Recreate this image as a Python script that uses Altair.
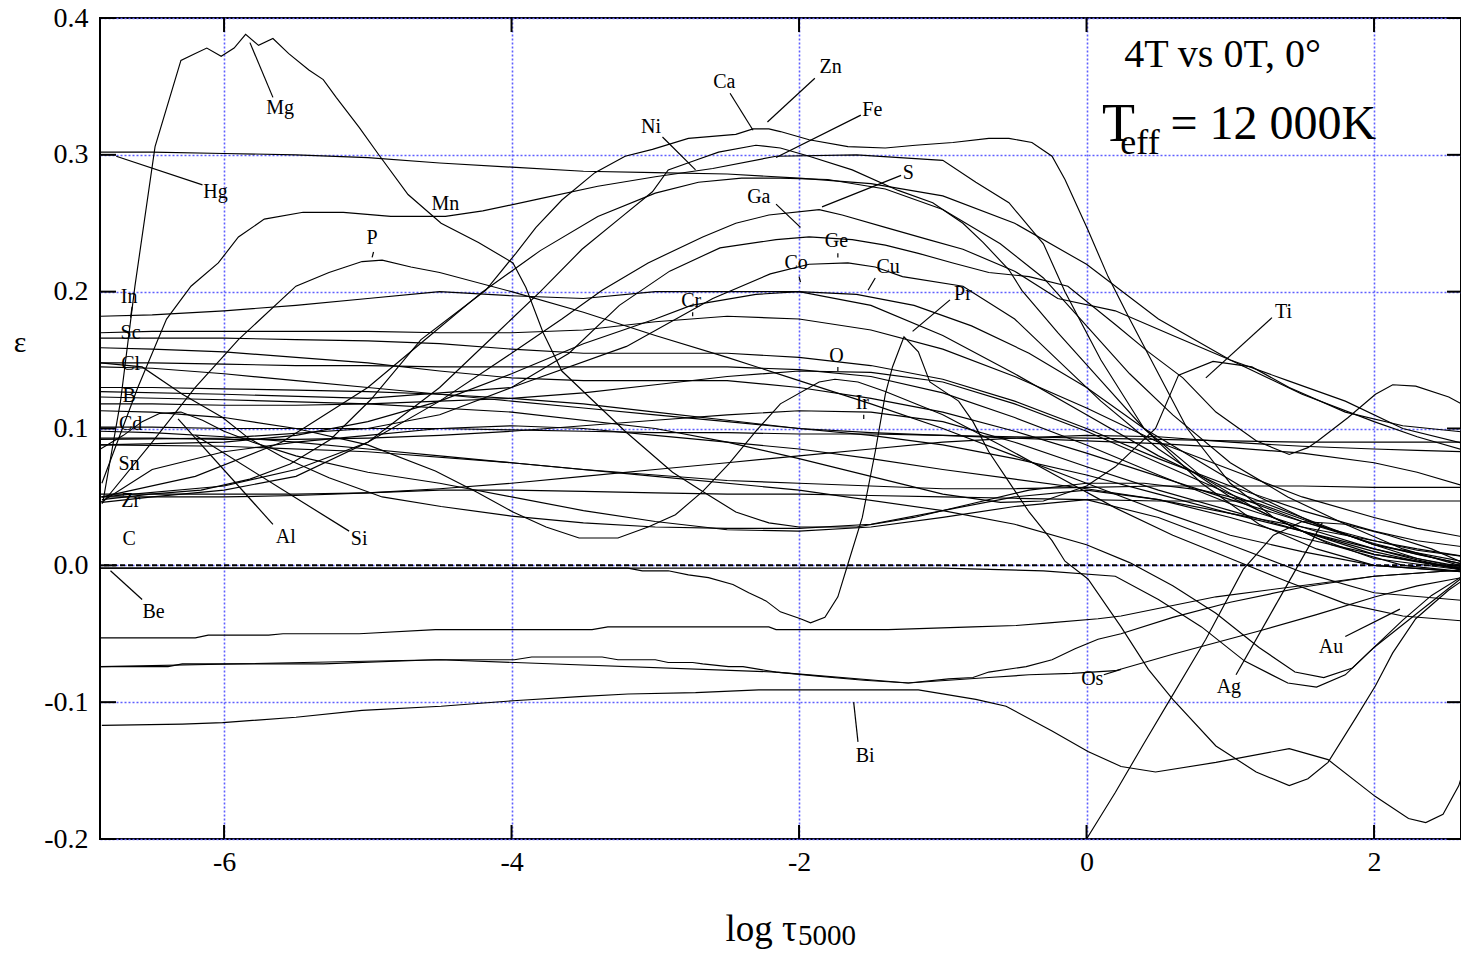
import altair as alt
import pandas as pd

# ---------------- data (log tau_5000, epsilon) ----------------
XG = [-6.86, -6.5, -6.0, -5.5, -5.0, -4.5, -4.0, -3.5, -3.0, -2.5, -2.0,
      -1.5, -1.0, -0.5, 0.0, 0.5, 1.0, 1.5, 2.0, 2.3, 2.66]

MG_X = [-6.84, -6.72, -6.62, -6.48, -6.30, -6.20, -6.12, -6.02, -5.93, -5.85, -5.76, -5.66,
        -5.55, -5.41, -5.31, -5.22, -5.06, -4.93, -4.72, -4.49, -4.23, -3.99, -3.90, -3.78,
        -3.65, -3.42, -3.21, -2.88, -2.67, -2.44, -2.21, -2.0, -1.6, -1.2, -0.8, -0.4, 0.0,
        0.4, 0.8, 1.2, 1.6, 2.0, 2.66]
MG_Y = [0.048, 0.12, 0.204, 0.306, 0.369, 0.374, 0.378, 0.372, 0.378, 0.388, 0.38, 0.385,
        0.374, 0.362, 0.355, 0.342, 0.32, 0.301, 0.271, 0.25, 0.236, 0.221, 0.203, 0.17,
        0.142, 0.119, 0.098, 0.068, 0.054, 0.039, 0.031, 0.028, 0.028, 0.035, 0.045, 0.055,
        0.06, 0.06, 0.055, 0.045, 0.03, 0.015, 0.0]

CA_X = [-6.85, -6.51, -6.16, -5.82, -5.54, -5.26, -4.98, -4.63, -4.18, -3.97, -3.83, -3.65,
        -3.42, -3.21, -3.02, -2.77, -2.44, -2.32, -2.21, -2.13, -1.93, -1.66, -1.4, -1.19,
        -0.93, -0.68, -0.54, -0.38, -0.24, -0.15, 0.01, 0.15, 0.3, 0.5, 0.7, 1.0, 1.3, 1.7,
        2.2, 2.66]
CA_Y = [0.048, 0.052, 0.055, 0.063, 0.074, 0.092, 0.121, 0.165, 0.201, 0.228, 0.247, 0.267,
        0.287, 0.299, 0.304, 0.312, 0.315, 0.319, 0.319, 0.317, 0.311, 0.306, 0.305, 0.307,
        0.309, 0.312, 0.312, 0.309, 0.299, 0.282, 0.245, 0.211, 0.18, 0.14, 0.1, 0.06, 0.035,
        0.015, 0.0, -0.005]

ZN_X = [-6.85, -6.5, -6.0, -5.5, -5.0, -4.5, -4.1, -3.8, -3.51, -3.23, -3.02, -2.91, -2.72,
        -2.56, -2.3, -2.13, -1.93, -1.63, -1.31, -1.07, -0.86, -0.72, -0.54, -0.45, -0.2,
        0.1, 0.4, 0.8, 1.2, 1.6, 2.0, 2.66]
ZN_Y = [0.046, 0.05, 0.055, 0.065, 0.09, 0.13, 0.17, 0.2, 0.231, 0.255, 0.273, 0.289, 0.296,
        0.302, 0.307, 0.305, 0.299, 0.289, 0.274, 0.265, 0.25, 0.236, 0.216, 0.201, 0.17,
        0.135, 0.1, 0.065, 0.04, 0.02, 0.005, -0.004]

MN_X = [-6.85, -6.6, -6.4, -6.23, -6.04, -5.9, -5.72, -5.45, -5.17, -4.84, -4.46, -4.2, -3.8,
        -3.4, -3.0, -2.6, -2.16, -1.6, -1.0, -0.77, -0.54, -0.3, -0.15, 0.1, 0.4, 0.8, 1.2,
        1.6, 2.0, 2.66]
MN_Y = [0.06, 0.13, 0.18, 0.204, 0.221, 0.24, 0.253, 0.258, 0.258, 0.255, 0.255, 0.259, 0.268,
        0.277, 0.284, 0.29, 0.299, 0.3, 0.296, 0.28, 0.265, 0.235, 0.2, 0.15, 0.1, 0.06, 0.03,
        0.012, 0.0, -0.005]

HG_Y = [0.302, 0.302, 0.301, 0.3, 0.298, 0.294, 0.291, 0.288, 0.287, 0.286, 0.283, 0.279,
        0.27, 0.25, 0.22, 0.18, 0.15, 0.125, 0.105, 0.094, 0.083]

FE_X = [-6.85, -6.2, -5.6, -5.0, -4.6, -4.2, -3.8, -3.4, -3.0, -2.7, -2.4, -2.13, -1.8, -1.4,
        -1.0, -0.6, -0.3, 0.0, 0.3, 0.6, 1.0, 1.4, 1.8, 2.2, 2.66]
FE_Y = [0.05, 0.065, 0.09, 0.13, 0.165, 0.2, 0.23, 0.255, 0.272, 0.28, 0.283, 0.283, 0.282,
        0.275, 0.26, 0.235, 0.21, 0.175, 0.14, 0.11, 0.075, 0.05, 0.03, 0.012, -0.002]

S_X = [-6.85, -6.0, -5.5, -5.0, -4.5, -4.0, -3.65, -3.37, -3.05, -2.67, -2.44, -2.21, -1.86,
       -1.7, -1.4, -1.1, -0.86, -0.5, -0.2, 0.2, 0.6, 1.0, 1.4, 1.8, 2.2, 2.66]
S_Y = [0.05, 0.058, 0.07, 0.09, 0.12, 0.155, 0.18, 0.201, 0.221, 0.24, 0.25, 0.256, 0.26,
       0.256, 0.247, 0.238, 0.231, 0.215, 0.195, 0.186, 0.168, 0.15, 0.135, 0.12, 0.1, 0.088]

GE_X = [-6.86, -6.0, -5.0, -4.5, -4.0, -3.6, -3.25, -2.9, -2.55, -2.16, -1.93, -1.63, -1.4,
        -1.17, -0.93, -0.68, -0.4, -0.13, 0.2, 0.43, 0.67, 0.9, 1.18, 1.41, 1.54, 1.61, 1.82,
        2.01, 2.13, 2.29, 2.52, 2.66]
GE_Y = [0.092, 0.093, 0.1, 0.11, 0.13, 0.155, 0.19, 0.215, 0.232, 0.238, 0.24, 0.238, 0.234,
        0.228, 0.221, 0.214, 0.211, 0.204, 0.176, 0.156, 0.137, 0.112, 0.091, 0.081, 0.086,
        0.091, 0.108, 0.125, 0.132, 0.131, 0.123, 0.115]

CO_X = [-6.86, -6.0, -5.0, -4.0, -3.2, -2.6, -2.2, -1.93, -1.66, -1.47, -1.28, -0.86, -0.5,
        -0.2, 0.1, 0.5, 1.0, 1.5, 2.0, 2.66]
CO_Y = [0.127, 0.125, 0.122, 0.13, 0.16, 0.195, 0.213, 0.22, 0.221, 0.218, 0.211, 0.204, 0.18,
        0.15, 0.12, 0.085, 0.05, 0.025, 0.008, -0.004]

CR_X = [-6.86, -6.0, -5.5, -5.0, -4.5, -4.0, -3.5, -3.0, -2.75, -2.3, -2.0, -1.6, -1.2, -0.8,
        -0.4, 0.0, 0.4, 0.8, 1.2, 1.6, 2.0, 2.66]
CR_Y = [0.088, 0.09, 0.095, 0.105, 0.12, 0.14, 0.162, 0.18, 0.19, 0.198, 0.2, 0.198, 0.19,
        0.175, 0.155, 0.13, 0.1, 0.075, 0.05, 0.03, 0.015, 0.002]

P_X = [-6.85, -6.5, -6.2, -5.9, -5.5, -5.27, -5.04, -4.9, -4.7, -4.5, -4.0, -3.5, -3.0, -2.5,
       -2.0, -1.5, -1.0, -0.5, 0.0, 0.5, 1.0, 1.5, 2.0, 2.66]
P_Y = [0.045, 0.09, 0.13, 0.165, 0.204, 0.214, 0.222, 0.223, 0.218, 0.214, 0.2, 0.185, 0.168,
       0.152, 0.135, 0.118, 0.1, 0.08, 0.06, 0.04, 0.022, 0.01, 0.0, -0.005]

SI_X = [-6.86, -6.57, -6.29, -6.01, -5.83, -5.59, -5.27, -4.9, -4.49, -4.0, -3.5, -3.0, -2.5,
        -2.0, -1.5, -1.0, -0.5, 0.0, 0.5, 1.0, 1.5, 2.0, 2.66]
SI_Y = [0.148, 0.145, 0.125, 0.108, 0.093, 0.079, 0.064, 0.05, 0.043, 0.036, 0.031, 0.028,
        0.027, 0.027, 0.03, 0.04, 0.05, 0.055, 0.048, 0.035, 0.02, 0.008, -0.003]

AL_X = [-6.86, -6.7, -6.57, -6.45, -6.3, -6.15, -6.0, -5.8, -5.5, -5.0, -4.5, -4.0, -3.5, -3.0,
        -2.5, -2.0, -1.5, -1.0, -0.5, 0.0, 0.5, 1.0, 1.5, 2.0, 2.66]
AL_Y = [0.085, 0.095, 0.105, 0.111, 0.112, 0.106, 0.098, 0.09, 0.08, 0.068, 0.06, 0.05, 0.04,
        0.032, 0.026, 0.025, 0.028, 0.035, 0.043, 0.048, 0.035, 0.015, -0.005, -0.02, -0.026]

NI_X = [-6.86, -6.5, -6.0, -5.5, -5.0, -4.53, -4.25, -3.99, -3.76, -3.53, -3.26, -3.05, -2.86,
        -2.67, -2.49, -2.3, -2.13, -1.86, -1.75, -1.59, -1.4, -1.0, -0.6, -0.2, 0.2, 0.6, 1.0,
        1.4, 1.8, 2.2, 2.66]
NI_Y = [0.113, 0.112, 0.108, 0.1, 0.088, 0.069, 0.054, 0.039, 0.028, 0.02, 0.02, 0.028, 0.037,
        0.054, 0.074, 0.098, 0.118, 0.134, 0.136, 0.134, 0.127, 0.11, 0.088, 0.065, 0.042,
        0.022, 0.005, -0.012, -0.028, -0.037, -0.041]

TI_X = [-6.86, -6.0, -5.0, -4.0, -3.0, -2.5, -2.0, -1.5, -1.0, -0.6, -0.3, 0.0, 0.2, 0.48,
        0.64, 0.88, 1.15, 1.41, 1.8, 2.2, 2.66]
TI_Y = [0.123, 0.121, 0.118, 0.112, 0.1, 0.09, 0.078, 0.065, 0.052, 0.046, 0.047, 0.058, 0.072,
        0.1, 0.139, 0.149, 0.145, 0.13, 0.112, 0.102, 0.097]

AU_X = [-6.86, -6.0, -5.0, -4.0, -3.0, -2.0, -1.0, -0.5, 0.0, 0.3, 0.6, 0.9, 1.2, 1.45, 1.65,
        1.85, 2.0, 2.2, 2.4, 2.66]
AU_Y = [0.088, 0.087, 0.083, 0.075, 0.065, 0.055, 0.04, 0.03, 0.015, 0.002, -0.015, -0.035,
        -0.06, -0.078, -0.082, -0.075, -0.06, -0.04, -0.022, -0.005]

PR_X = [-6.86, -4.5, -3.19, -3.09, -2.91, -2.77, -2.63, -2.46, -2.35, -2.23, -2.13, -1.99,
        -1.92, -1.82, -1.73, -1.66, -1.56, -1.47, -1.40, -1.35, -1.27, -1.17, -1.09, -0.89,
        -0.79, -0.68, -0.54, -0.40, -0.24, -0.15, 0.01, 0.24, 0.43, 0.6, 0.9, 1.18, 1.41,
        1.54, 1.68, 1.87, 2.01, 2.13, 2.29, 2.52, 2.66]
PR_Y = [-0.002, -0.002, -0.002, -0.004, -0.004, -0.007, -0.009, -0.014, -0.02, -0.026, -0.034,
        -0.039, -0.042, -0.038, -0.023, 0.001, 0.035, 0.083, 0.125, 0.145, 0.167, 0.156,
        0.134, 0.12, 0.105, 0.083, 0.061, 0.039, 0.018, 0.003, -0.01, -0.045, -0.076, -0.098,
        -0.132, -0.151, -0.161, -0.156, -0.144, -0.112, -0.088, -0.064, -0.039, -0.018, -0.008]

N1_X = [-6.86, -6.2, -6.11, -5.69, -5.59, -5.06, -4.53, -3.44, -3.33, -2.21, -2.16, -1.38,
        -0.79, -0.49, -0.26, 0.08, 0.24, 0.9, 2.0, 2.66]
N1_Y = [-0.053, -0.053, -0.051, -0.051, -0.05, -0.05, -0.047, -0.047, -0.045, -0.045, -0.047,
        -0.047, -0.045, -0.044, -0.042, -0.039, -0.037, -0.023, -0.008, -0.003]

N2_X = [-6.86, -6.39, -6.29, -5.31, -4.53, -3.98, -3.86, -3.37, -3.26, -3.0, -2.91, -2.74,
        -2.67, -2.49, -2.39, -2.16, -1.87, -1.55, -1.24, -0.96, -0.79, -0.68, -0.42, -0.24,
        -0.08, 0.08, 0.24, 0.6, 1.0, 1.5, 2.0, 2.66]
N2_Y = [-0.074, -0.074, -0.072, -0.072, -0.069, -0.069, -0.067, -0.067, -0.069, -0.069,
        -0.071, -0.071, -0.072, -0.074, -0.074, -0.078, -0.081, -0.084, -0.086, -0.083,
        -0.082, -0.078, -0.074, -0.069, -0.061, -0.054, -0.05, -0.038, -0.027, -0.016,
        -0.008, -0.003]

OS_X = [-6.86, -4.5, -2.16, -1.24, -0.68, -0.4, -0.1, 0.2, 0.6, 1.2, 1.6, 2.01, 2.3, 2.66]
OS_Y = [-0.074, -0.069, -0.078, -0.086, -0.082, -0.08, -0.079, -0.077, -0.065, -0.048, -0.036,
        -0.023, -0.015, -0.008]

BI_X = [-6.85, -6.29, -6.01, -5.5, -5.04, -4.49, -3.99, -3.53, -3.19, -2.72, -2.28, -1.17,
        -0.77, -0.56, -0.24, 0.01, 0.24, 0.48, 0.9, 1.41, 1.68, 2.01, 2.24, 2.36, 2.48, 2.59,
        2.66]
BI_Y = [-0.117, -0.116, -0.115, -0.111, -0.106, -0.103, -0.099, -0.096, -0.094, -0.093, -0.091,
        -0.091, -0.098, -0.103, -0.121, -0.136, -0.147, -0.151, -0.144, -0.134, -0.142, -0.169,
        -0.185, -0.188, -0.182, -0.161, -0.136]

AG_X = [-0.1, 0.0, 0.1, 0.2, 0.4, 0.57, 0.83, 1.09, 1.3, 1.5, 1.8, 2.1, 2.4, 2.66]
AG_Y = [-0.23, -0.2, -0.183, -0.166, -0.13, -0.1, -0.054, -0.003, 0.022, 0.032, 0.03, 0.022,
        0.012, 0.0]

BE_X = [-6.86, -4.0, -2.0, -1.0, -0.3, 0.2, 0.5, 0.8, 1.1, 1.4, 1.6, 1.8, 2.0, 2.3, 2.66]
BE_Y = [-0.002, -0.002, -0.002, -0.002, -0.004, -0.008, -0.025, -0.045, -0.07, -0.086, -0.089,
        -0.08, -0.06, -0.035, -0.005]

IN_Y = [0.182, 0.183, 0.186, 0.19, 0.195, 0.2, 0.197, 0.195, 0.2, 0.2, 0.2, 0.19, 0.168, 0.14,
        0.11, 0.08, 0.055, 0.035, 0.015, 0.005, -0.003]
SC_Y = [0.170, 0.171, 0.171, 0.171, 0.171, 0.170, 0.170, 0.172, 0.178, 0.182, 0.180, 0.172,
        0.158, 0.138, 0.115, 0.09, 0.07, 0.05, 0.035, 0.027, 0.02]
F3_Y = [0.166, 0.166, 0.166, 0.165, 0.164, 0.162, 0.158, 0.155, 0.155, 0.155, 0.152, 0.146,
        0.136, 0.12, 0.1, 0.078, 0.058, 0.04, 0.025, 0.018, 0.013]
F4_Y = [0.159, 0.158, 0.156, 0.152, 0.148, 0.142, 0.137, 0.135, 0.135, 0.135, 0.13, 0.122,
        0.112, 0.098, 0.082, 0.065, 0.048, 0.032, 0.018, 0.011, 0.006]
CL_Y = [0.148, 0.148, 0.147, 0.146, 0.146, 0.145, 0.145, 0.145, 0.145, 0.145, 0.143, 0.138,
        0.126, 0.108, 0.088, 0.066, 0.045, 0.028, 0.012, 0.004, -0.004]
F6_Y = [0.145, 0.144, 0.14, 0.135, 0.13, 0.125, 0.12, 0.115, 0.11, 0.105, 0.1, 0.097, 0.095,
        0.093, 0.091, 0.089, 0.086, 0.082, 0.075, 0.068, 0.057]
B_Y = [0.130, 0.130, 0.129, 0.128, 0.127, 0.125, 0.122, 0.118, 0.112, 0.106, 0.1, 0.095, 0.088,
       0.078, 0.066, 0.052, 0.038, 0.025, 0.012, 0.005, -0.002]
O_Y = [0.118, 0.118, 0.117, 0.117, 0.118, 0.12, 0.122, 0.126, 0.132, 0.138, 0.142, 0.141,
       0.134, 0.118, 0.098, 0.075, 0.052, 0.032, 0.016, 0.008, 0.0]
CD_Y = [0.101, 0.101, 0.1, 0.1, 0.1, 0.1, 0.099, 0.098, 0.097, 0.097, 0.096, 0.096, 0.095,
        0.094, 0.093, 0.092, 0.091, 0.09, 0.09, 0.09, 0.09]
L23_Y = [0.098, 0.097, 0.094, 0.09, 0.085, 0.08, 0.075, 0.07, 0.066, 0.062, 0.06, 0.058, 0.056,
         0.056, 0.057, 0.058, 0.058, 0.058, 0.057, 0.057, 0.057]
SN_Y = [0.046, 0.07, 0.083, 0.09, 0.095, 0.1, 0.102, 0.1, 0.095, 0.09, 0.085, 0.078, 0.07,
        0.063, 0.056, 0.048, 0.038, 0.028, 0.018, 0.012, 0.006]
ZR_Y = [0.052, 0.052, 0.052, 0.052, 0.053, 0.055, 0.055, 0.054, 0.053, 0.052, 0.052, 0.051,
        0.05, 0.049, 0.048, 0.047, 0.047, 0.047, 0.047, 0.047, 0.047]
L28_Y = [0.050, 0.050, 0.050, 0.051, 0.053, 0.056, 0.06, 0.065, 0.07, 0.075, 0.08, 0.085, 0.09,
         0.093, 0.095, 0.094, 0.09, 0.087, 0.085, 0.084, 0.083]
IR_Y = [0.093, 0.093, 0.092, 0.092, 0.093, 0.095, 0.098, 0.102, 0.106, 0.11, 0.113, 0.112,
        0.105, 0.09, 0.072, 0.055, 0.04, 0.025, 0.01, 0.003, -0.004]

SERIES = [
    ("Mg", MG_X, MG_Y), ("Ca", CA_X, CA_Y), ("Zn", ZN_X, ZN_Y), ("Mn", MN_X, MN_Y),
    ("Hg", XG, HG_Y), ("Fe", FE_X, FE_Y), ("S", S_X, S_Y), ("Ge", GE_X, GE_Y),
    ("Co", CO_X, CO_Y), ("Cr", CR_X, CR_Y), ("P", P_X, P_Y), ("Si", SI_X, SI_Y),
    ("Al", AL_X, AL_Y), ("Ni", NI_X, NI_Y), ("Ti", TI_X, TI_Y), ("Au", AU_X, AU_Y),
    ("Pr", PR_X, PR_Y), ("N1", N1_X, N1_Y), ("N2", N2_X, N2_Y), ("Os", OS_X, OS_Y),
    ("Bi", BI_X, BI_Y), ("Ag", AG_X, AG_Y), ("Be", BE_X, BE_Y), ("In", XG, IN_Y),
    ("Sc", XG, SC_Y), ("F3", XG, F3_Y), ("F4", XG, F4_Y), ("Cl", XG, CL_Y), ("F6", XG, F6_Y),
    ("B", XG, B_Y), ("O", XG, O_Y), ("Cd", XG, CD_Y), ("L23", XG, L23_Y), ("Sn", XG, SN_Y),
    ("Zr", XG, ZR_Y), ("L28", XG, L28_Y), ("Ir", XG, IR_Y),
]

# element labels (text, x, y) and leader lines
LABEL_T = ["Mg", "Hg", "In", "Sc", "Cl", "B", "Cd", "Sn", "Zr", "C", "Be", "Al", "Si", "P",
           "Mn", "Ni", "Ca", "Zn", "Fe", "S", "Ga", "Ge", "Co", "Cu", "Cr", "Pr", "O", "Ir",
           "Ti", "Os", "Ag", "Au", "Bi"]
LABEL_X = [-5.61, -6.06, -6.66, -6.65, -6.65, -6.66, -6.65, -6.66, -6.65, -6.66, -6.49, -5.57,
           -5.06, -4.97, -4.46, -3.03, -2.52, -1.78, -1.49, -1.24, -2.28, -1.74, -2.02, -1.38,
           -2.75, -0.86, -1.74, -1.56, 1.37, 0.04, 0.99, 1.70, -1.54]
LABEL_Y = [0.334, 0.273, 0.196, 0.170, 0.147, 0.124, 0.103, 0.074, 0.047, 0.019, -0.034, 0.021,
           0.019, 0.239, 0.264, 0.320, 0.353, 0.364, 0.333, 0.287, 0.269, 0.237, 0.221, 0.218,
           0.193, 0.198, 0.153, 0.119, 0.185, -0.083, -0.089, -0.060, -0.139]

LEAD_X1 = [-5.82, -6.75, -6.64, -6.79, -5.66, -5.13, -2.95, -2.48, -1.89, -1.57, -1.29, -2.16,
           -1.47, -0.95, 1.29, 0.12, 1.04, 1.80, -1.59, -4.96, -1.73, -2.0, -1.73, -1.55, -2.74]
LEAD_Y1 = [0.382, 0.299, 0.189, -0.004, 0.03, 0.025, 0.313, 0.345, 0.356, 0.329, 0.285, 0.264,
           0.21, 0.194, 0.181, -0.080, -0.08, -0.052, -0.129, 0.229, 0.228, 0.211, 0.145, 0.110,
           0.185]
LEAD_X2 = [-5.66, -6.15, -6.65, -6.57, -6.32, -6.2, -2.72, -2.32, -2.22, -2.16, -1.84, -1.99,
           -1.52, -1.21, 0.83, 0.24, 1.64, 2.18, -1.62, -4.97, -1.73, -1.99, -1.73, -1.55, -2.74]
LEAD_Y2 = [0.342, 0.278, 0.181, -0.025, 0.107, 0.095, 0.289, 0.318, 0.324, 0.298, 0.262, 0.247,
           0.201, 0.171, 0.137, -0.076, 0.031, -0.032, -0.1, 0.225, 0.225, 0.207, 0.142, 0.107,
           0.182]

X_TICKS = [-6, -4, -2, 0, 2]
Y_TICKS = [-0.2, -0.1, 0.0, 0.1, 0.2, 0.3, 0.4]

# ---------------- chart ----------------
rows = []
for name, xs, ys in SERIES:
    for i, (xv, yv) in enumerate(zip(xs, ys)):
        rows.append({"s": name, "x": xv, "y": yv, "o": i})
df = pd.DataFrame(rows)
lab = pd.DataFrame({"t": LABEL_T, "x": LABEL_X, "y": LABEL_Y})
lead = pd.DataFrame({"x": LEAD_X1, "y": LEAD_Y1, "x2": LEAD_X2, "y2": LEAD_Y2})
xt = pd.DataFrame({"v": X_TICKS})
yt = pd.DataFrame({"v": Y_TICKS})

# plot area: 1361 px wide (page x 100..1461), 821 px tall (page y 18..839)
W, H = 1361, 821
FONT = "Liberation Serif"
XS = alt.Scale(domain=[-6.863, 2.605], nice=False, zero=False)
YS = alt.Scale(domain=[-0.2, 0.4], nice=False, zero=False)
GRID = dict(grid=True, gridColor="#5f5fff", gridDash=[2, 2], gridWidth=1.6, ticks=False,
            domain=False, title=None, labelFont=FONT, labelFontSize=28, labelColor="black")
XAX = alt.Axis(values=X_TICKS, labelPadding=9,
               labelExpr="datum.value < 0 ? '-' + format(-datum.value, 'd') : format(datum.value, 'd')",
               **GRID)
YAX = alt.Axis(values=Y_TICKS, labelPadding=12,
               labelExpr="datum.value < 0 ? '-' + format(-datum.value, '.1f') : format(datum.value, '.1f')",
               **GRID)

def X(f="x"):
    return alt.X(f"{f}:Q", scale=XS, axis=XAX)

def Y(f="y"):
    return alt.Y(f"{f}:Q", scale=YS, axis=YAX)

lines = alt.Chart(df).mark_line(color="black", strokeWidth=1.15, clip=True).encode(
    x=X(), y=Y(), detail="s:N", order="o:Q")

zero = alt.Chart(pd.DataFrame({"y": [0.0]})).mark_rule(
    color="black", strokeDash=[5, 3], strokeWidth=2).encode(y=Y())

leaders = alt.Chart(lead).mark_rule(color="black", strokeWidth=1.2).encode(
    x=X(), y=Y(), x2="x2:Q", y2="y2:Q")

labels = alt.Chart(lab).mark_text(font=FONT, fontSize=20, color="black",
                                  baseline="middle", align="center").encode(
    x=X(), y=Y(), text="t:N")

tick_top = alt.Chart(xt).mark_rule(color="black", strokeWidth=2).encode(
    x=X("v"), y=alt.value(0), y2=alt.value(14))
tick_bot = alt.Chart(xt).mark_rule(color="black", strokeWidth=2).encode(
    x=X("v"), y=alt.value(H - 14), y2=alt.value(H))
tick_l = alt.Chart(yt).mark_rule(color="black", strokeWidth=2).encode(
    y=Y("v"), x=alt.value(0), x2=alt.value(16))
tick_r = alt.Chart(yt).mark_rule(color="black", strokeWidth=2).encode(
    y=Y("v"), x=alt.value(W - 14), x2=alt.value(W))

ann = pd.DataFrame({"x": [0.946], "y": [0.373], "t": ["4T vs 0T, 0°"]})
ann1 = alt.Chart(ann).mark_text(font=FONT, fontSize=40, color="black").encode(
    x=X(), y=Y(), text="t:N")
teff_T = alt.Chart(pd.DataFrame({"x": [0.223], "y": [0.322], "t": ["T"]})).mark_text(
    font=FONT, fontSize=54, color="black").encode(x=X(), y=Y(), text="t:N")
teff_s = alt.Chart(pd.DataFrame({"x": [0.235], "y": [0.309], "t": ["eff"]})).mark_text(
    font=FONT, fontSize=36, color="black", align="left").encode(x=X(), y=Y(), text="t:N")
teff_v = alt.Chart(pd.DataFrame({"x": [0.584], "y": [0.322], "t": ["= 12 000K"]})).mark_text(
    font=FONT, fontSize=48, color="black", align="left").encode(x=X(), y=Y(), text="t:N")

title_main = alt.Chart(pd.DataFrame({"t": ["log τ"]})).mark_text(
    font=FONT, fontSize=37, color="black", align="right", baseline="alphabetic").encode(
    x=alt.value(697), y=alt.value(923), text="t:N")
title_sub = alt.Chart(pd.DataFrame({"t": ["5000"]})).mark_text(
    font=FONT, fontSize=29, color="black", align="left", baseline="alphabetic").encode(
    x=alt.value(698), y=alt.value(927), text="t:N")
eps = alt.Chart(pd.DataFrame({"t": ["ε"]})).mark_text(
    font=FONT, fontSize=30, color="black").encode(
    x=alt.value(-80), y=alt.value(325), text="t:N")

chart = alt.layer(
    lines, zero, leaders, labels, tick_top, tick_bot, tick_l, tick_r,
    ann1, teff_T, teff_s, teff_v, title_main, title_sub, eps
).properties(
    width=W, height=H,
    autosize=alt.AutoSizeParams(type="none"),
    padding={"left": 92, "top": 10, "right": 0, "bottom": 113},
    background="white",
).configure_view(stroke="black", strokeWidth=2)

chart.save("out.html", embed_options={"renderer": "svg", "actions": False})
